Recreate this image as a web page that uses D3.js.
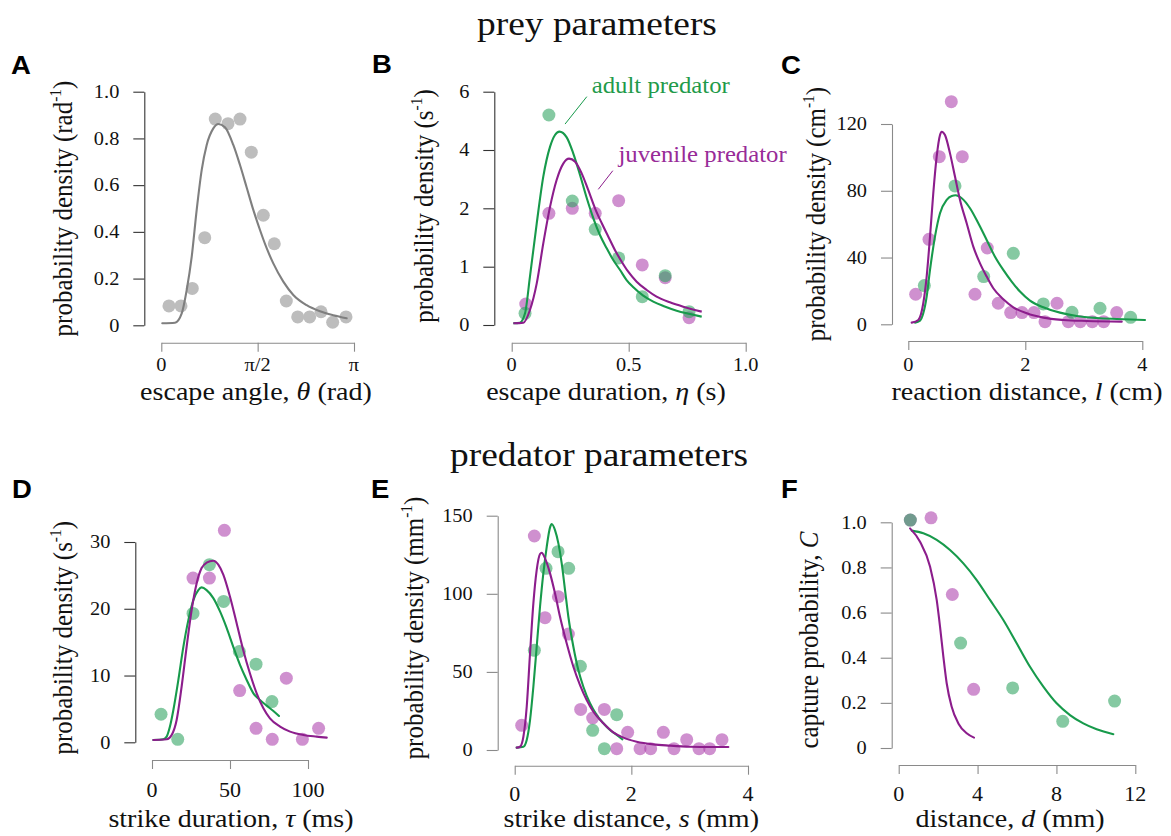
<!DOCTYPE html>
<html>
<head>
<meta charset="utf-8">
<script src="https://cdn.jsdelivr.net/npm/d3@7"></script>
<style>
  body { margin: 0; background: #fff; }
  svg { display: block; }
  text { font-family: "Liberation Serif", "Times New Roman", serif; }
  text.letter { font-family: "Liberation Sans", Arial, sans-serif; font-weight: bold; }
</style>
</head>
<body>
<svg id="fig" width="1171" height="836"></svg>
<script>
// ---------------- data ----------------
// A: escape angle (rad)
const angleX = [0.125, 0.321, 0.505, 0.708, 0.880, 1.087, 1.283, 1.467, 1.663, 1.842, 2.038, 2.224, 2.419, 2.604, 2.794, 3.011];
const angleDensity = [0.083, 0.083, 0.158, 0.375, 0.883, 0.863, 0.883, 0.741, 0.471, 0.349, 0.104, 0.036, 0.036, 0.058, 0.013, 0.036];
const angleFit = [[0.016,0.009],[0.223,0.011],[0.333,0.051],[0.414,0.151],[0.496,0.294],[0.577,0.494],[0.659,0.665],[0.740,0.772],[0.848,0.843],[0.929,0.862],[1.038,0.848],[1.174,0.772],[1.283,0.686],[1.392,0.590],[1.500,0.494],[1.609,0.408],[1.718,0.330],[1.826,0.265],[1.989,0.187],[2.152,0.130],[2.370,0.086],[2.587,0.060],[2.804,0.043],[3.022,0.030]];
const angleTicksY = [0, 0.2, 0.4, 0.6, 0.8, 1.0];
const angleTickLabelsY = ["0", "0.2", "0.4", "0.6", "0.8", "1.0"];
const angleTicksX = [0, Math.PI / 2, Math.PI];
const angleTickLabelsX = ["0", "π/2", "π"];

// B: escape duration (s)
const escDurAdultX = [0.057, 0.159, 0.259, 0.357, 0.457, 0.558, 0.656, 0.758];
const escDurAdult = [0.2, 5.2, 2.25, 1.64, 1.15, 0.486, 0.846, 0.229];
const escDurJuvX = [0.060, 0.159, 0.259, 0.357, 0.457, 0.558, 0.656, 0.758];
const escDurJuv = [0.36, 1.914, 2.0, 1.914, 2.26, 1.03, 0.81, 0.126];
const escDurFitAdult = [[0.007,0.029],[0.035,0.04],[0.057,0.2],[0.078,0.829],[0.107,1.743],[0.135,3.086],[0.164,4.114],[0.185,4.514],[0.204,4.629],[0.235,4.434],[0.263,3.886],[0.292,3.143],[0.321,2.343],[0.349,1.829],[0.377,1.543],[0.406,1.314],[0.434,1.114],[0.463,0.943],[0.491,0.771],[0.520,0.646],[0.562,0.503],[0.605,0.4],[0.648,0.326],[0.705,0.246],[0.762,0.189],[0.812,0.143]];
const escDurFitJuv = [[0.007,0.029],[0.05,0.04],[0.078,0.257],[0.107,0.714],[0.135,1.4],[0.164,2.057],[0.192,2.971],[0.221,3.543],[0.245,3.703],[0.271,3.6],[0.299,3.2],[0.327,2.629],[0.356,2.0],[0.385,1.743],[0.413,1.514],[0.441,1.286],[0.47,1.086],[0.498,0.914],[0.534,0.743],[0.577,0.6],[0.619,0.486],[0.676,0.389],[0.733,0.314],[0.812,0.229]];
const escDurTicksY = [0, 1, 2, 4, 6];
const escDurTickLabelsY = ["0", "1", "2", "4", "6"];
const escDurTicksX = [0, 0.5, 1.0];
const escDurTickLabelsX = ["0", "0.5", "1.0"];
const adultLeader = [[0.228, 4.89], [0.321, 5.83]];
const adultLabelAt = [0.342, 5.97];
const juvLeader = [[0.370, 2.65], [0.432, 3.29]];
const juvLabelAt = [0.456, 3.6];

// C: reaction distance (cm)
const reactJuvX = [0.126, 0.354, 0.53, 0.735, 0.923, 1.14, 1.35, 1.538, 1.75, 1.944, 2.149, 2.337, 2.542, 2.735, 2.94, 3.145, 3.34, 3.562];
const reactJuv = [18, 50.9, 100.4, 133.4, 100.4, 18, 45.7, 12.6, 7, 7, 7, 1.6, 12.6, 1.6, 1.6, 1.6, 1.6, 7];
const reactAdultX = [0.274, 0.798, 1.289, 1.795, 2.308, 2.798, 3.277, 3.80];
const reactAdult = [23.2, 82.9, 28.6, 42.5, 12.2, 7.2, 9.6, 4.2];
const reactFitJuv = [[0.058,1.0],[0.171,2.6],[0.256,12.6],[0.314,28.6],[0.371,52.5],[0.427,78.5],[0.485,100.4],[0.542,113.4],[0.570,115.4],[0.627,113.4],[0.713,102.4],[0.798,88.5],[0.884,74.5],[0.998,60.5],[1.111,46.5],[1.226,36.5],[1.34,28.6],[1.453,21.6],[1.624,15.0],[1.795,10.2],[2.024,6.6],[2.308,4.0],[2.65,2.6],[3.05,2.0],[3.648,1.6]];
const reactFitAdult = [[0.115,1.0],[0.2,2.2],[0.256,6.6],[0.314,16.6],[0.371,32.6],[0.456,52.5],[0.542,66.5],[0.656,74.5],[0.742,76.9],[0.81,77.3],[0.913,75.5],[1.055,69.5],[1.197,60.5],[1.34,50.5],[1.482,40.5],[1.624,32.6],[1.767,25.6],[1.909,19.6],[2.08,14.2],[2.308,10.2],[2.593,7.0],[2.879,5.0],[3.221,3.8],[3.562,3.2],[4.046,2.6]];
const reactTicksY = [0, 40, 80, 120];
const reactTicksX = [0, 2, 4];

// D: strike duration (ms)
const strDurAdultX = [5.8, 16.5, 26.3, 36.8, 45.9, 56.0, 66.7, 76.9];
const strDurAdult = [4.2, 0.45, 19.3, 26.6, 21.1, 13.6, 11.7, 6.1];
const strDurJuvX = [26.3, 36.8, 46.4, 56.2, 66.7, 77.1, 86.1, 96.4, 106.8];
const strDurJuv = [24.6, 24.6, 31.75, 7.74, 2.1, 0.45, 9.6, 0.45, 2.1];
const strDurFitAdult = [[0.85,0.35],[7.26,0.45],[9.4,0.85],[11.5,2.35],[13.7,4.84],[16.9,9.34],[20.1,14.3],[23.3,18.3],[26.5,21.3],[29.7,22.8],[31.8,23.2],[35.0,22.8],[39.3,21.6],[43.6,19.6],[47.9,17.1],[52.1,14.3],[56.4,11.6],[60.7,9.34],[65.0,7.34],[69.2,6.34],[73.5,5.49],[77.8,4.69],[81.4,3.94]];
const strDurFitJuv = [[0.85,0.35],[9.4,0.45],[12.6,1.1],[15.8,3.35],[19.0,8.34],[22.2,14.3],[25.4,19.8],[28.6,23.8],[31.8,26.1],[35.0,26.9],[39.3,27.2],[42.5,26.6],[45.7,25.1],[50.0,21.8],[54.3,17.8],[58.5,13.8],[62.8,10.3],[67.1,7.34],[71.4,5.09],[75.6,3.59],[82.1,2.35],[88.5,1.6],[97.0,1.1],[105.6,0.85],[112.0,0.7]];
const strDurTicksY = [0, 10, 20, 30];
const strDurTicksX = [0, 50, 100];

// E: strike distance (mm)
const strDistJuvX = [0.12, 0.337, 0.52, 0.749, 0.92, 1.131, 1.337, 1.537, 1.749, 1.937, 2.149, 2.331, 2.549, 2.731, 2.949, 3.16, 3.343, 3.554];
const strDistJuv = [15.8, 137, 84.7, 98.1, 74.2, 26.0, 20.5, 26.0, 0.85, 11.3, 0.85, 0.85, 11.3, 0.85, 6.6, 0.85, 0.85, 6.6];
const strDistAdultX = [0.337, 0.537, 0.743, 0.926, 1.126, 1.337, 1.537, 1.749];
const strDistAdult = [63.8, 116.3, 127, 116.3, 53.6, 12.6, 0.85, 22.6];
const strDistFitAdult = [[0.034,1.5],[0.149,2.1],[0.206,6.4],[0.263,19.2],[0.32,40.5],[0.377,66.1],[0.434,91.7],[0.491,113.1],[0.549,130.1],[0.606,142.5],[0.634,144.7],[0.691,140.8],[0.749,132.3],[0.806,119.5],[0.863,102.4],[0.92,85.3],[1.006,66.1],[1.091,51.2],[1.177,40.5],[1.291,29.9],[1.406,22.4],[1.52,17.1],[1.634,12.8],[1.749,9.6],[1.846,6.8]];
const strDistFitJuv = [[0.034,1.5],[0.091,2.1],[0.149,8.5],[0.206,27.7],[0.263,61.9],[0.32,93.9],[0.377,115.2],[0.434,125.5],[0.463,126.3],[0.52,122.7],[0.606,113.1],[0.691,100.3],[0.777,85.3],[0.891,68.3],[1.006,53.3],[1.12,41.6],[1.234,32.0],[1.349,24.5],[1.52,17.1],[1.691,11.3],[1.863,7.9],[2.091,5.3],[2.377,3.6],[2.663,2.8],[3.006,2.1],[3.349,1.9],[3.663,1.9]];
const strDistTicksY = [0, 50, 100, 150];
const strDistTicksX = [0, 2, 4];

// F: capture probability vs distance (mm)
const captJuvX = [0.59, 1.64, 2.72, 3.80];
const captJuv = [1.01, 1.02, 0.68, 0.26];
const captAdultX = [0.59, 3.14, 5.78, 8.32, 10.95];
const captAdult = [1.01, 0.465, 0.266, 0.118, 0.208];
const captFitJuv = [[0.575,0.973],[1.082,0.914],[1.589,0.804],[1.927,0.656],[2.096,0.538],[2.265,0.405],[2.434,0.287],[2.687,0.183],[3.025,0.109],[3.448,0.065],[3.82,0.046]];
const captFitAdult = [[0.659,0.963],[1.251,0.951],[1.927,0.922],[2.603,0.877],[3.279,0.818],[3.955,0.744],[4.631,0.656],[5.307,0.567],[5.983,0.464],[6.659,0.36],[7.335,0.272],[8.011,0.198],[8.687,0.146],[9.363,0.109],[10.039,0.083],[10.884,0.061]];
const captTicksY = [0, 0.2, 0.4, 0.6, 0.8, 1.0];
const captTickLabelsY = ["0", "0.2", "0.4", "0.6", "0.8", "1.0"];
const captTicksX = [0, 4, 8, 12];

// ---------------- styling ----------------
const SX = 1.1;                 // horizontal glyph stretch used for all text
const INK = "#111";
const GREEN = "#179a4b", PURPLE = "#8c1d8c";
const GREEN_PT = "#2ca25f", PURPLE_PT = "#ac3fac", GRAY_PT = "#bdbdbd";
const GREEN_TXT = "#1f9a4a", PURPLE_TXT = "#982b98";

const svg = d3.select("#fig");

// text helper: segments may be italic or superscript
function label(parent, x, y, segs, o) {
  const g = parent.append("g")
    .attr("transform", `translate(${x},${y}) scale(${SX},1)` + (o.rotate ? " rotate(-90)" : ""));
  const t = g.append("text")
    .attr("text-anchor", o.anchor || "middle")
    .attr("font-size", o.size)
    .attr("fill", o.color || INK);
  if (o.cls) t.attr("class", o.cls);
  if (o.dy) t.attr("dy", o.dy);
  let pending = 0;
  segs.forEach(s => {
    const ts = t.append("tspan").text(s.t);
    if (s.i) ts.attr("font-style", "italic");
    if (s.sup) {
      ts.attr("font-size", o.size * 0.62).attr("dy", -o.size * 0.4 + pending);
      pending = o.size * 0.4;
    } else if (pending) {
      ts.attr("dy", pending);
      pending = 0;
    }
  });
  return g;
}

const zip = (xs, ys) => xs.map((v, i) => [v, ys[i]]);

function yAxis(g, y, ticks, labels, ax, color) {
  g.append("g")
    .attr("transform", `translate(${ax},0)`)
    .call(d3.axisLeft(y).tickValues(ticks).tickSize(11).tickSizeOuter(0).tickFormat(""))
    .call(a => a.selectAll("path,line").attr("stroke", color).attr("stroke-width", 1.1));
  ticks.forEach((v, i) =>
    label(g, ax - 25, y(v), [{ t: labels[i] }], { anchor: "end", size: 18.5, dy: "0.34em" }));
}

function panel(cfg) {
  const g = svg.append("g");
  const x = d3.scaleLinear().domain(cfg.xDomain).range(cfg.xRange);
  const y = d3.scaleLinear().domain(cfg.yDomain).range(cfg.yRange);

  if (cfg.yTicks.length) yAxis(g, y, cfg.yTicks, cfg.yTickLabels, cfg.yAxisX, cfg.yAxisColor);

  // x axis (R-style, detached below the data)
  g.append("g")
    .attr("transform", `translate(0,${cfg.xAxisY})`)
    .call(d3.axisBottom(x).tickValues(cfg.xTicks).tickSize(9).tickSizeOuter(0).tickFormat(""))
    .call(a => a.selectAll("path,line").attr("stroke", "#8a8a8a").attr("stroke-width", 1.1));
  cfg.xTicks.forEach((v, i) =>
    label(g, x(v), cfg.xAxisY + cfg.xTickOffset, [{ t: cfg.xTickLabels[i] }], { size: cfg.xTickSize }));

  // axis titles
  label(g, cfg.xTitle[0], cfg.xTitle[1], cfg.xTitle[2], { size: 25.5 });
  label(g, cfg.yTitle[0], cfg.yTitle[1], cfg.yTitle[2], { size: 25, rotate: true });

  // panel letter
  label(g, cfg.letter[0], cfg.letter[1], [{ t: cfg.letter[2] }], { anchor: "start", size: 25, color: "#000", cls: "letter" });

  // points then fitted curves
  cfg.points.forEach(p => {
    g.append("g").selectAll("circle").data(p.data).join("circle")
      .attr("cx", d => x(d[0])).attr("cy", d => y(d[1])).attr("r", 6.5)
      .attr("fill", p.color).attr("fill-opacity", p.opacity);
  });
  const line = d3.line().x(d => x(d[0])).y(d => y(d[1])).curve(d3.curveMonotoneX);
  cfg.curves.forEach(c => {
    g.append("path").datum(c.data).attr("d", line)
      .attr("fill", "none").attr("stroke", c.color).attr("stroke-width", 2.1)
      .attr("stroke-linejoin", "round").attr("stroke-linecap", "round");
  });
  return { g, x, y };
}

// ---------------- figure ----------------
label(svg, 597, 34.5, [{ t: "prey parameters" }], { size: 34 });
label(svg, 599, 466, [{ t: "predator parameters" }], { size: 34 });

const TOP_TICK = 28.5, TOP_TITLE = 399.5;

// A
panel({
  xDomain: [0, Math.PI], xRange: [161.3, 354], yDomain: [0, 1], yRange: [325.3, 91.7],
  yAxisX: 144.3, xAxisY: 342.7, yAxisColor: "#333",
  yTicks: angleTicksY, yTickLabels: angleTickLabelsY,
  xTicks: angleTicksX, xTickLabels: angleTickLabelsX, xTickOffset: TOP_TICK, xTickSize: 18.5,
  xTitle: [256, TOP_TITLE, [{ t: "escape angle, " }, { t: "θ", i: true }, { t: " (rad)" }]],
  yTitle: [71.7, 208.5, [{ t: "probability density (rad" }, { t: "-1", sup: true }, { t: ")" }]],
  letter: [11, 74, "A"],
  points: [{ data: zip(angleX, angleDensity), color: GRAY_PT, opacity: 1 }],
  curves: [{ data: angleFit, color: "#7f7f7f" }]
});

// B (y axis with uneven tick spacing: 0, 1, 2, 4, 6)
const B = panel({
  xDomain: [0, 1], xRange: [511.7, 745.7], yDomain: [0, 6], yRange: [325, 91.7],
  yAxisX: 494.3, xAxisY: 342.7, yAxisColor: "#333",
  yTicks: [], yTickLabels: [],
  xTicks: escDurTicksX, xTickLabels: escDurTickLabelsX, xTickOffset: TOP_TICK, xTickSize: 18.5,
  xTitle: [606, TOP_TITLE, [{ t: "escape duration, " }, { t: "η", i: true }, { t: " (s)" }]],
  yTitle: [433.3, 206, [{ t: "probability density (s" }, { t: "-1", sup: true }, { t: ")" }]],
  letter: [372, 72.5, "B"],
  points: [], curves: []
});
{
  const yB = d3.scaleLinear().domain(escDurTicksY).range([325, 266.7, 208.3, 150, 91.7]);
  const xB = B.x, gB = B.g;
  yAxis(gB, yB, escDurTicksY, escDurTickLabelsY, 494.3, "#333");
  [[zip(escDurJuvX, escDurJuv), PURPLE_PT], [zip(escDurAdultX, escDurAdult), GREEN_PT]].forEach(([d, c]) => {
    gB.append("g").selectAll("circle").data(d).join("circle")
      .attr("cx", p => xB(p[0])).attr("cy", p => yB(p[1])).attr("r", 6.5)
      .attr("fill", c).attr("fill-opacity", 0.58);
  });
  const lineB = d3.line().x(d => xB(d[0])).y(d => yB(d[1])).curve(d3.curveMonotoneX);
  [[escDurFitAdult, GREEN], [escDurFitJuv, PURPLE]].forEach(([d, c]) => {
    gB.append("path").datum(d).attr("d", lineB).attr("fill", "none")
      .attr("stroke", c).attr("stroke-width", 2.1).attr("stroke-linejoin", "round");
  });
  const seg = d3.line().x(d => xB(d[0])).y(d => yB(d[1]));
  gB.append("path").datum(adultLeader).attr("d", seg).attr("stroke", GREEN).attr("stroke-width", 1);
  gB.append("path").datum(juvLeader).attr("d", seg).attr("stroke", PURPLE).attr("stroke-width", 1);
  label(gB, xB(adultLabelAt[0]), yB(adultLabelAt[1]), [{ t: "adult predator" }], { anchor: "start", size: 22.5, color: GREEN_TXT });
  label(gB, xB(juvLabelAt[0]), yB(juvLabelAt[1]), [{ t: "juvenile predator" }], { anchor: "start", size: 22.5, color: PURPLE_TXT });
}

// C
panel({
  xDomain: [0, 4], xRange: [908.3, 1142.3], yDomain: [0, 120], yRange: [324.3, 124],
  yAxisX: 892, xAxisY: 341, yAxisColor: "#8a8a8a",
  yTicks: reactTicksY, yTickLabels: reactTicksY.map(String),
  xTicks: reactTicksX, xTickLabels: reactTicksX.map(String), xTickOffset: TOP_TICK + 1.7, xTickSize: 18.5,
  xTitle: [1027, TOP_TITLE, [{ t: "reaction distance, " }, { t: "l", i: true }, { t: " (cm)" }]],
  yTitle: [825, 214, [{ t: "probability density (cm" }, { t: "-1", sup: true }, { t: ")" }]],
  letter: [781, 74, "C"],
  points: [
    { data: zip(reactJuvX, reactJuv), color: PURPLE_PT, opacity: 0.58 },
    { data: zip(reactAdultX, reactAdult), color: GREEN_PT, opacity: 0.58 }
  ],
  curves: [{ data: reactFitAdult, color: GREEN }, { data: reactFitJuv, color: PURPLE }]
});

// D
panel({
  xDomain: [0, 100], xRange: [152, 308], yDomain: [0, 30], yRange: [742.3, 542],
  yAxisX: 135.3, xAxisY: 760, yAxisColor: "#333",
  yTicks: strDurTicksY, yTickLabels: strDurTicksY.map(String),
  xTicks: strDurTicksX, xTickLabels: strDurTicksX.map(String), xTickOffset: 36.5, xTickSize: 20,
  xTitle: [231, 827, [{ t: "strike duration, " }, { t: "τ", i: true }, { t: " (ms)" }]],
  yTitle: [71.7, 637.7, [{ t: "probability density (s" }, { t: "-1", sup: true }, { t: ")" }]],
  letter: [12, 498, "D"],
  points: [
    { data: zip(strDurJuvX, strDurJuv), color: PURPLE_PT, opacity: 0.58 },
    { data: zip(strDurAdultX, strDurAdult), color: GREEN_PT, opacity: 0.58 }
  ],
  curves: [{ data: strDurFitAdult, color: GREEN }, { data: strDurFitJuv, color: PURPLE }]
});

// E
panel({
  xDomain: [0, 4], xRange: [514.7, 748], yDomain: [0, 150], yRange: [750, 515.7],
  yAxisX: 497.7, xAxisY: 765.7, yAxisColor: "#8a8a8a",
  yTicks: strDistTicksY, yTickLabels: strDistTicksY.map(String),
  xTicks: strDistTicksX, xTickLabels: strDistTicksX.map(String), xTickOffset: 35, xTickSize: 20,
  xTitle: [631.3, 827, [{ t: "strike distance, " }, { t: "s", i: true }, { t: " (mm)" }]],
  yTitle: [423.3, 628, [{ t: "probability density (mm" }, { t: "-1", sup: true }, { t: ")" }]],
  letter: [371, 498, "E"],
  points: [
    { data: zip(strDistJuvX, strDistJuv), color: PURPLE_PT, opacity: 0.58 },
    { data: zip(strDistAdultX, strDistAdult), color: GREEN_PT, opacity: 0.58 }
  ],
  curves: [{ data: strDistFitAdult, color: GREEN }, { data: strDistFitJuv, color: PURPLE }]
});

// F
panel({
  xDomain: [0, 12], xRange: [898.7, 1135.3], yDomain: [0, 1], yRange: [748, 522.3],
  yAxisX: 891.7, xAxisY: 765, yAxisColor: "#8a8a8a",
  yTicks: captTicksY, yTickLabels: captTickLabelsY,
  xTicks: captTicksX, xTickLabels: captTicksX.map(String), xTickOffset: 35.5, xTickSize: 20,
  xTitle: [1010, 827, [{ t: "distance, " }, { t: "d", i: true }, { t: " (mm)" }]],
  yTitle: [818.3, 640, [{ t: "capture probability, " }, { t: "C", i: true }]],
  letter: [781, 498, "F"],
  points: [
    { data: zip(captJuvX, captJuv), color: PURPLE_PT, opacity: 0.58 },
    { data: zip(captAdultX, captAdult), color: GREEN_PT, opacity: 0.58 }
  ],
  curves: [{ data: captFitAdult, color: GREEN }, { data: captFitJuv, color: PURPLE }]
});
</script>
</body>
</html>
